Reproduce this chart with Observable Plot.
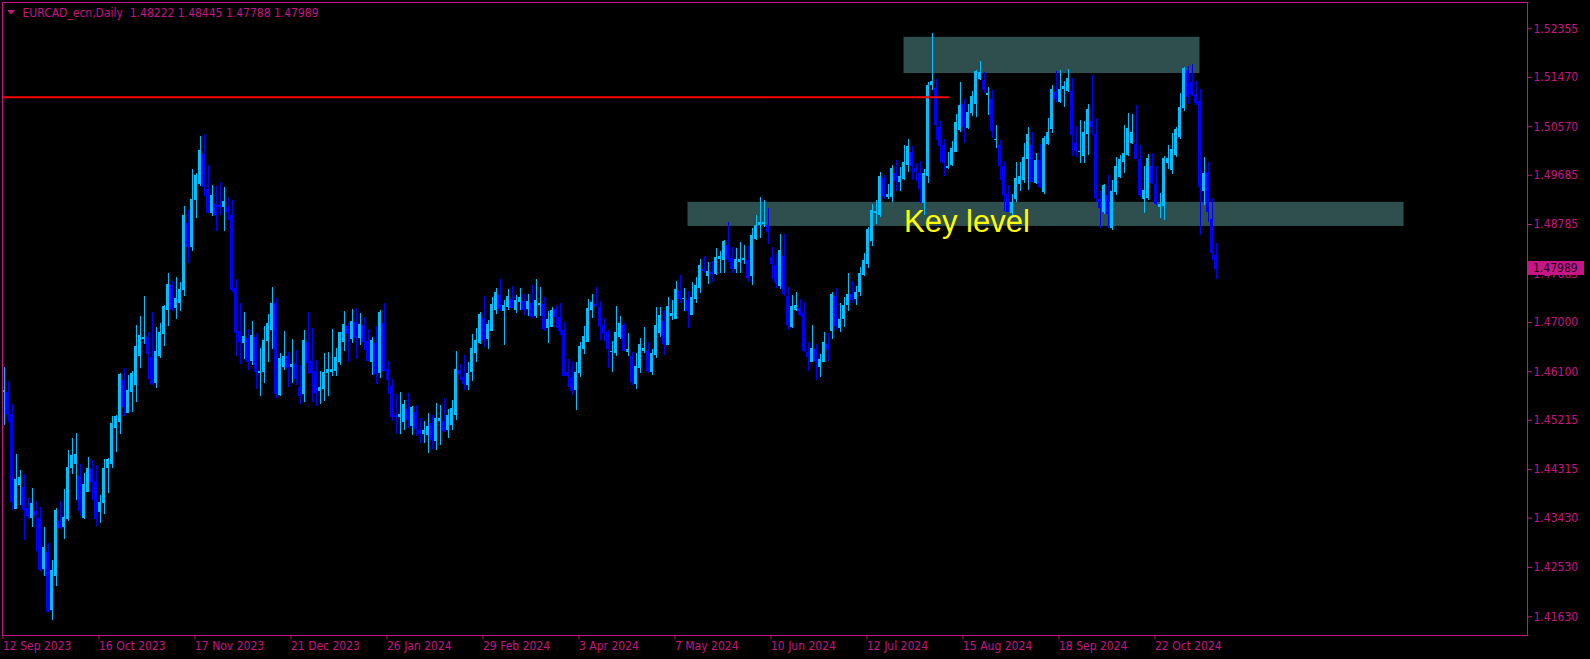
<!DOCTYPE html>
<html><head><meta charset="utf-8">
<script src="https://cdn.jsdelivr.net/npm/d3@7"></script>
<script src="https://cdn.jsdelivr.net/npm/@observablehq/plot@0.6"></script>
<style>
html,body{margin:0;padding:0;background:#000;overflow:hidden;}
#chart{width:1590px;height:659px;}
</style></head><body><div id="chart"></div>
<script>
// ---- data (EURCAD daily, bar index 0 = 12 Sep 2023) ----
const open = [
1.4573,1.4573,1.4532,1.4359,1.4402,1.4398,1.4361,1.4343,1.4355,1.4342,1.4249,1.4280,1.4174,1.4237,1.4337,1.4326,1.4340,1.4434,1.4441,1.4419,
1.4342,1.4390,1.4432,1.4410,1.4354,1.4370,1.4434,1.4441,1.4507,1.4518,1.4594,1.4534,1.4573,1.4585,1.4637,1.4668,1.4672,1.4636,1.4588,1.4638,
1.4678,1.4722,1.4767,1.4726,1.4735,1.4759,1.4880,1.4837,1.4923,1.4952,1.5006,1.4942,1.4899,1.4915,1.4913,1.4909,1.4909,1.4895,1.4762,1.4683,
1.4662,1.4671,1.4629,1.4673,1.4607,1.4609,1.4666,1.4685,1.4734,1.4567,1.4617,1.4637,1.4618,1.4623,1.4581,1.4568,1.4663,1.4629,1.4611,1.4574,
1.4578,1.4607,1.4609,1.4611,1.4626,1.4664,1.4693,1.4668,1.4700,1.4671,1.4694,1.4665,1.4626,1.4661,1.4606,1.4698,1.4614,1.4583,1.4531,1.4527,
1.4518,1.4541,1.4511,1.4536,1.4503,1.4496,1.4494,1.4516,1.4483,1.4520,1.4520,1.4502,1.4512,1.4530,1.4612,1.4599,1.4585,1.4609,1.4644,1.4661,
1.4707,1.4669,1.4684,1.4722,1.4749,1.4720,1.4728,1.4742,1.4722,1.4737,1.4738,1.4724,1.4734,1.4710,1.4730,1.4733,1.4688,1.4691,1.4723,1.4709,
1.4685,1.4609,1.4600,1.4576,1.4607,1.4651,1.4664,1.4722,1.4733,1.4727,1.4694,1.4682,1.4646,1.4644,1.4672,1.4694,1.4646,1.4637,1.4586,1.4616,
1.4647,1.4647,1.4609,1.4640,1.4680,1.4702,1.4658,1.4711,1.4706,1.4756,1.4741,1.4740,1.4713,1.4742,1.4761,1.4796,1.4784,1.4791,1.4787,1.4815,
1.4812,1.4840,1.4817,1.4796,1.4810,1.4812,1.4813,1.4784,1.4851,1.4877,1.4879,1.4876,1.4818,1.4804,1.4766,1.4820,1.4747,1.4690,1.4722,1.4725,
1.4716,1.4645,1.4626,1.4650,1.4617,1.4627,1.4660,1.4684,1.4747,1.4688,1.4705,1.4730,1.4750,1.4742,1.4755,1.4786,1.4806,1.4848,1.4899,1.4895,
1.4962,1.4927,1.4927,1.4972,1.4956,1.4960,1.4986,1.5010,1.4980,1.4972,1.4916,1.4966,1.5132,1.5126,1.5055,1.5023,1.4981,1.4986,1.5010,1.5050,
1.5097,1.5054,1.5081,1.5097,1.5143,1.5142,1.5114,1.5107,1.5031,1.5023,1.4985,1.4933,1.4898,1.4924,1.4951,1.4959,1.4998,1.5023,1.4953,1.4995,
1.4937,1.5024,1.5052,1.5119,1.5101,1.5124,1.5122,1.5121,1.5026,1.5010,1.5003,1.5043,1.5066,1.5043,1.4924,1.4901,1.4932,1.4872,1.4937,1.4965,
1.4992,1.5005,1.5027,1.5024,1.4997,1.4924,1.4926,1.4984,1.4951,1.4910,1.4912,1.4989,1.4977,1.5005,1.5038,1.5090,1.5159,1.5138,1.5116,1.5103,
1.4939,1.4973,1.4888,1.48222];
const high = [
1.4618,1.4592,1.4550,1.4459,1.4430,1.4422,1.4378,1.4397,1.4373,1.4362,1.4326,1.4296,1.4266,1.4361,1.4373,1.4395,1.4466,1.4488,1.4498,1.4441,
1.4424,1.4453,1.4448,1.4439,1.4384,1.4450,1.4452,1.4528,1.4530,1.4607,1.4616,1.4603,1.4611,1.4694,1.4711,1.4747,1.4681,1.4718,1.4691,1.4698,
1.4731,1.4789,1.4775,1.4782,1.4773,1.4911,1.4904,1.4979,1.4972,1.5039,1.5043,1.4986,1.4950,1.4948,1.4956,1.4946,1.4928,1.4922,1.4778,1.4734,
1.4718,1.4687,1.4702,1.4679,1.4652,1.4693,1.4714,1.4764,1.4744,1.4643,1.4683,1.4645,1.4669,1.4649,1.4621,1.4685,1.4718,1.4689,1.4631,1.4610,
1.4643,1.4645,1.4687,1.4652,1.4682,1.4720,1.4698,1.4724,1.4725,1.4716,1.4709,1.4687,1.4672,1.4693,1.4722,1.4734,1.4629,1.4596,1.4569,1.4573,
1.4558,1.4571,1.4547,1.4549,1.4525,1.4520,1.4534,1.4530,1.4552,1.4548,1.4561,1.4541,1.4557,1.4647,1.4623,1.4640,1.4627,1.4678,1.4689,1.4718,
1.4747,1.4703,1.4745,1.4762,1.4778,1.4740,1.4760,1.4765,1.4749,1.4762,1.4751,1.4751,1.4767,1.4778,1.4764,1.4745,1.4720,1.4727,1.4731,1.4734,
1.4699,1.4632,1.4627,1.4626,1.4663,1.4692,1.4742,1.4751,1.4764,1.4738,1.4707,1.4685,1.4665,1.4729,1.4711,1.4698,1.4680,1.4646,1.4644,1.4671,
1.4691,1.4664,1.4650,1.4727,1.4727,1.4722,1.4745,1.4740,1.4775,1.4786,1.4762,1.4756,1.4773,1.4782,1.4815,1.4820,1.4809,1.4811,1.4835,1.4829,
1.4849,1.4882,1.4837,1.4835,1.4846,1.4840,1.4839,1.4871,1.4895,1.4928,1.4922,1.4908,1.4837,1.4824,1.4860,1.4860,1.4764,1.4749,1.4755,1.4742,
1.4736,1.4663,1.4694,1.4660,1.4642,1.4682,1.4680,1.4755,1.4762,1.4734,1.4745,1.4789,1.4775,1.4765,1.4800,1.4825,1.4874,1.4915,1.4922,1.4974,
1.4968,1.4951,1.4986,1.4995,1.4982,1.5022,1.5033,1.5021,1.4990,1.4994,1.4979,1.5138,1.5227,1.5143,1.5066,1.5033,1.5010,1.5030,1.5080,1.5138,
1.5107,1.5097,1.5121,1.5159,1.5176,1.5156,1.5129,1.5123,1.5059,1.5032,1.4994,1.4950,1.4933,1.4992,1.4992,1.5027,1.5055,1.5046,1.5008,1.5024,
1.5039,1.5072,1.5132,1.5158,1.5159,1.5139,1.5161,1.5144,1.5057,1.5068,1.5066,1.5097,1.5150,1.5072,1.4939,1.4951,1.4968,1.4959,1.5001,1.5004,
1.5059,1.5081,1.5079,1.5096,1.5023,1.4984,1.5006,1.5008,1.4984,1.4935,1.5003,1.5023,1.5045,1.5055,1.5117,1.5165,1.5167,1.5170,1.5139,1.5125,
1.5001,1.4992,1.4926,1.48445];
const low = [
1.4512,1.4518,1.4357,1.4359,1.4366,1.4302,1.4340,1.4325,1.4282,1.4246,1.4237,1.4173,1.4156,1.4219,1.4322,1.4304,1.4336,1.4422,1.4375,1.4346,
1.4340,1.4390,1.4375,1.4328,1.4333,1.4350,1.4387,1.4434,1.4463,1.4496,1.4529,1.4533,1.4536,1.4554,1.4615,1.4660,1.4596,1.4584,1.4580,1.4635,
1.4656,1.4693,1.4719,1.4706,1.4719,1.4748,1.4808,1.4830,1.4890,1.4948,1.4930,1.4899,1.4894,1.4866,1.4895,1.4866,1.4886,1.4755,1.4638,1.4624,
1.4632,1.4613,1.4621,1.4578,1.4564,1.4589,1.4627,1.4651,1.4562,1.4564,1.4612,1.4582,1.4589,1.4584,1.4550,1.4553,1.4605,1.4554,1.4547,1.4551,
1.4556,1.4564,1.4602,1.4602,1.4621,1.4647,1.4626,1.4662,1.4633,1.4657,1.4649,1.4629,1.4604,1.4587,1.4598,1.4612,1.4569,1.4519,1.4496,1.4496,
1.4502,1.4507,1.4493,1.4491,1.4480,1.4480,1.4460,1.4469,1.4467,1.4476,1.4500,1.4489,1.4503,1.4521,1.4594,1.4575,1.4576,1.4593,1.4627,1.4660,
1.4655,1.4651,1.4684,1.4715,1.4720,1.4657,1.4722,1.4726,1.4717,1.4722,1.4713,1.4710,1.4708,1.4708,1.4710,1.4684,1.4662,1.4691,1.4689,1.4677,
1.4602,1.4582,1.4567,1.4540,1.4600,1.4642,1.4664,1.4708,1.4728,1.4667,1.4666,1.4616,1.4609,1.4637,1.4668,1.4649,1.4637,1.4584,1.4578,1.4607,
1.4644,1.4606,1.4604,1.4635,1.4673,1.4640,1.4657,1.4703,1.4706,1.4735,1.4719,1.4688,1.4713,1.4735,1.4752,1.4790,1.4770,1.4773,1.4786,1.4790,
1.4790,1.4810,1.4790,1.4790,1.4790,1.4806,1.4772,1.4768,1.4849,1.4853,1.4873,1.4843,1.4778,1.4761,1.4760,1.4748,1.4686,1.4688,1.4719,1.4711,
1.4646,1.4611,1.4626,1.4594,1.4600,1.4626,1.4629,1.4668,1.4686,1.4682,1.4690,1.4720,1.4735,1.4730,1.4748,1.4783,1.4798,1.4839,1.4879,1.4892,
1.4925,1.4925,1.4919,1.4939,1.4939,1.4958,1.4974,1.4959,1.4957,1.4917,1.4895,1.4953,1.5123,1.5032,1.4992,1.4967,1.4979,1.4985,1.5010,1.5047,
1.5027,1.5052,1.5076,1.5074,1.5141,1.5117,1.5077,1.5036,1.5017,1.4959,1.4903,1.4901,1.4889,1.4919,1.4939,1.4954,1.4941,1.4956,1.4951,1.4944,
1.4933,1.5023,1.5045,1.5101,1.5099,1.5092,1.5120,1.5003,1.5001,1.4990,1.4989,1.5005,1.5040,1.4919,1.4872,1.4896,1.4872,1.4868,1.4932,1.4963,
1.4972,1.5003,1.5025,1.4997,1.4927,1.4899,1.4922,1.4951,1.4914,1.4890,1.4885,1.4978,1.4970,1.5000,1.5034,1.5085,1.5097,1.5112,1.5096,1.4858,
1.4913,1.4883,1.4813,1.47788];
const close = [
1.4576,1.4533,1.4374,1.4413,1.4417,1.4359,1.4348,1.4370,1.4350,1.4249,1.4289,1.4173,1.4247,1.4357,1.4326,1.4344,1.4435,1.4457,1.4459,1.4357,
1.4404,1.4433,1.4410,1.4343,1.4371,1.4433,1.4450,1.4516,1.4528,1.4605,1.4547,1.4576,1.4607,1.4656,1.4676,1.4672,1.4644,1.4588,1.4647,1.4681,
1.4729,1.4769,1.4726,1.4744,1.4760,1.4895,1.4838,1.4924,1.4968,1.5013,1.4947,1.4901,1.4931,1.4897,1.4911,1.4920,1.4902,1.4760,1.4682,1.4666,
1.4674,1.4629,1.4676,1.4611,1.4611,1.4667,1.4698,1.4734,1.4571,1.4634,1.4638,1.4618,1.4623,1.4598,1.4567,1.4667,1.4626,1.4609,1.4573,1.4581,
1.4609,1.4614,1.4614,1.4636,1.4682,1.4696,1.4680,1.4702,1.4673,1.4696,1.4666,1.4631,1.4667,1.4607,1.4718,1.4612,1.4595,1.4528,1.4528,1.4532,
1.4550,1.4522,1.4545,1.4507,1.4498,1.4503,1.4510,1.4486,1.4525,1.4525,1.4502,1.4530,1.4543,1.4614,1.4607,1.4588,1.4607,1.4652,1.4667,1.4714,
1.4669,1.4696,1.4733,1.4754,1.4725,1.4731,1.4747,1.4728,1.4740,1.4746,1.4724,1.4738,1.4710,1.4740,1.4734,1.4689,1.4705,1.4722,1.4710,1.4685,
1.4604,1.4604,1.4576,1.4609,1.4656,1.4674,1.4725,1.4736,1.4730,1.4695,1.4681,1.4653,1.4647,1.4682,1.4698,1.4649,1.4651,1.4593,1.4619,1.4660,
1.4652,1.4613,1.4643,1.4694,1.4713,1.4661,1.4729,1.4716,1.4760,1.4744,1.4744,1.4722,1.4745,1.4767,1.4804,1.4795,1.4793,1.4790,1.4818,1.4821,
1.4848,1.4817,1.4799,1.4814,1.4815,1.4817,1.4782,1.4858,1.4876,1.4882,1.4883,1.4866,1.4807,1.4773,1.4831,1.4752,1.4697,1.4729,1.4731,1.4715,
1.4648,1.4638,1.4652,1.4631,1.4632,1.4663,1.4653,1.4751,1.4695,1.4705,1.4730,1.4750,1.4742,1.4755,1.4790,1.4813,1.4869,1.4904,1.4902,1.4966,
1.4931,1.4934,1.4981,1.4959,1.4966,1.4992,1.5021,1.4986,1.4975,1.4944,1.4972,1.5133,1.5139,1.5061,1.5023,1.4991,1.4984,1.5017,1.5064,1.5096,
1.5058,1.5082,1.5112,1.5158,1.5156,1.5125,1.5117,1.5050,1.5034,1.4987,1.4933,1.4902,1.4919,1.4963,1.4966,1.5001,1.5043,1.4957,1.4995,1.4947,
1.5035,1.5046,1.5125,1.5108,1.5125,1.5130,1.5145,1.5043,1.5014,1.5012,1.5046,1.5088,1.5058,1.4928,1.4910,1.4950,1.4899,1.4939,1.4984,1.4997,
1.5008,1.5054,1.5046,1.4999,1.4933,1.4941,1.4999,1.4955,1.4917,1.4915,1.4999,1.4999,1.5015,1.5052,1.5092,1.5163,1.5112,1.5117,1.5101,1.4947,
1.4972,1.4903,1.4827,1.47989];

const xTickIndex  = [0, 24, 48, 72, 96, 120, 144, 168, 192, 216, 240, 264, 288];
const xTickLabels = ["12 Sep 2023","16 Oct 2023","17 Nov 2023","21 Dec 2023","26 Jan 2024","29 Feb 2024",
                     "3 Apr 2024","7 May 2024","10 Jun 2024","12 Jul 2024","15 Aug 2024","18 Sep 2024","22 Oct 2024"];
const yTickValues = [1.52355,1.51470,1.50570,1.49685,1.48785,1.47885,1.47000,1.46100,1.45215,1.44315,1.43430,1.42530,1.41630];

const zoneFrom   = [225, 171];
const zoneTo     = [299, 350];
const zoneTop    = [1.5220, 1.4919];
const zoneBottom = [1.5154, 1.4875];

const lineFrom = -6, lineTo = 236, linePrice = 1.51105;
const keyLabel = "Key level", keyBar = 225, keyPrice = 1.4865;
const symbolTitle = "EURCAD_ecn,Daily";

// ---- styling ----
const FG = "#C71585", UP = "#00BFFF", DOWN = "#0000FF", ZONE = "#2F4F4F";
const FONT = "'DejaVu Sans Condensed','Liberation Sans',sans-serif";
const half = 0.375;

const n = open.length;
const candles = open.map((o, i) => ({i, o, h: high[i], l: low[i], c: close[i]}));
const ups = candles.filter(d => d.c >= d.o);
const downs = candles.filter(d => d.c < d.o);
const zones = zoneFrom.map((f, k) => ({f, t: zoneTo[k], top: zoneTop[k], bot: zoneBottom[k]}));
const last = candles[n - 1];
const titleText = `${symbolTitle}  ${last.o.toFixed(5)} ${last.h.toFixed(5)} ${last.l.toFixed(5)} ${last.c.toFixed(5)}`;

function candleMarks(data, color) {
  return [
    Plot.ruleX(data, {x: "i", y1: "l", y2: "h", stroke: color, strokeWidth: 1, shapeRendering: "crispEdges"}),
    Plot.rect(data, {x1: d => d.i - half, x2: d => d.i + half, y1: "o", y2: "c", fill: color, shapeRendering: "crispEdges"}),
    Plot.ruleY(data, {x1: d => d.i - half, x2: d => d.i + half, y: "c", stroke: color, shapeRendering: "crispEdges"})
  ];
}

function priceTag(index, scales, values, dims) {
  const y = Math.round(scales.y(last.c));
  const x0 = dims.width - dims.marginRight;
  const g = d3.create("svg:g");
  g.append("rect").attr("x", x0 + 1).attr("y", y - 7).attr("width", 56).attr("height", 14).attr("fill", FG);
  g.append("text").attr("x", x0 + 6).attr("y", y).attr("dy", "0.36em").attr("text-anchor", "start")
    .attr("fill", "#1a001a").attr("font-size", 12).attr("font-family", FONT).text(last.c.toFixed(5));
  return g.node();
}
function titleMarker(index, scales, values, dims) {
  const x = dims.marginLeft, y = dims.marginTop;
  return d3.create("svg:path").attr("d", `M${x+5},${y+8}h8l-4,4.5z`).attr("fill", FG).node();
}

const chart = Plot.plot({
  width: 1590, height: 659,
  marginLeft: 2, marginRight: 63, marginTop: 2, marginBottom: 24,
  style: {background: "#000", color: FG, fontFamily: FONT, fontSize: "12px"},
  x: {type: "linear", domain: [-half, -half + 1525 / 4]},
  y: {type: "linear", domain: [1.41289, 1.52835]},
  marks: [
    Plot.rect(zones, {x1: "f", x2: "t", y1: "bot", y2: "top", fill: ZONE}),
    ...candleMarks(ups, UP),
    ...candleMarks(downs, DOWN),
    Plot.line([{x: lineFrom, y: linePrice}, {x: lineTo, y: linePrice}], {x: "x", y: "y", stroke: "#FF0000", strokeWidth: 2, clip: true}),
    Plot.text([keyLabel], {x: keyBar, y: keyPrice, text: d => d, fill: "#FFFF00", fontSize: 31,
      fontFamily: "'Liberation Sans',Arial,sans-serif", textAnchor: "start", lineAnchor: "bottom"}),
    Plot.frame({stroke: FG}),
    Plot.axisY({anchor: "right", ticks: yTickValues, tickFormat: d => d.toFixed(5), tickSize: 4, tickPadding: 2, label: null, fontSize: 12}),
    Plot.axisX({anchor: "bottom", ticks: xTickIndex, tickFormat: d => xTickLabels[xTickIndex.indexOf(d)],
      tickSize: 4, tickPadding: 2, textAnchor: "start", dx: -1, label: null, fontSize: 12}),
    Plot.text([titleText], {frameAnchor: "top-left", text: d => d, dx: 20, dy: 6, fill: FG, fontSize: 12, textAnchor: "start", lineAnchor: "top"}),
    titleMarker,
    priceTag
  ]
});
document.getElementById("chart").appendChild(chart);
</script>
</body></html>
